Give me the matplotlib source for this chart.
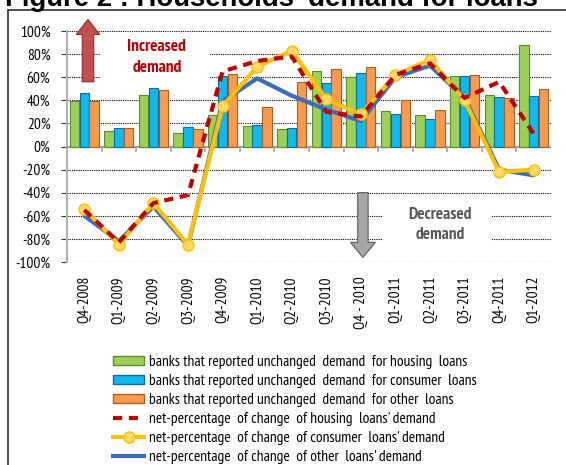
import matplotlib
matplotlib.use("Agg")
import matplotlib.pyplot as plt
import numpy as np
from matplotlib.patches import Rectangle, FancyArrow
from matplotlib.lines import Line2D
from matplotlib.ticker import FuncFormatter

categories = ["Q4-2008", "Q1-2009", "Q2-2009", "Q3-2009", "Q4-2009", "Q1-2010", "Q2-2010",
              "Q3-2010", "Q4 - 2010", "Q1-2011", "Q2-2011", "Q3-2011", "Q4-2011", "Q1-2012"]
unchanged_housing = [39, 13, 45, 12, 27, 18, 15, 65, 60, 31, 27, 61, 45, 88]
unchanged_consumer = [46, 16, 51, 17, 61, 19, 16, 55, 64, 28, 24, 61, 43, 44]
unchanged_other = [39, 16, 49, 15, 63, 34, 56, 67, 69, 40, 32, 62, 42, 50]
net_housing = [-55, -83, -49, -42, 65, 74, 78, 30, 26, 62, 72, 42, 56, 11]
net_consumer = [-54, -85, -49, -85, 35, 69, 83, 41, 28, 62, 75, 40, -22, -20]
net_other = [-60, -82, -52, -86, 39, 59, 44, 32, 22, 60, 70, 42, -20, -25]

legend_labels = ["banks that reported unchanged  demand  for housing  loans",
                 "banks that reported unchanged  demand  for consumer  loans",
                 "banks that reported unchanged  demand  for other  loans",
                 "net-percentage  of change  of housing  loans' demand",
                 "net-percentage  of change  of consumer  loans' demand",
                 "net-percentage  of change  of other  loans' demand"]

FAM = "PT Sans Narrow"

W, H = 566, 465
fig = plt.figure(figsize=(W / 100, H / 100), dpi=100)

# outer frame
fig.patches.append(Rectangle((8 / W, -0.1), 1.2, 1 - 10 / H + 0.1, transform=fig.transFigure,
                             fill=False, edgecolor="#303030", linewidth=1.2))
fig.text(5 / W, 1 - 6 / H, "Figure 2 : Households' demand for loans", fontsize=19.8,
         fontweight="bold", family="Liberation Sans", va="baseline", ha="left")

ax = fig.add_axes([67 / W, 1 - 262 / H, (551 - 67) / W, (262 - 31) / H])
x = np.arange(len(categories))
bw = 0.285
ax.bar(x - bw, unchanged_housing, bw * 0.95, color="#9bd157", edgecolor="#5f8a2a", linewidth=0.8, zorder=3)
ax.bar(x, unchanged_consumer, bw * 0.95, color="#10b8f0", edgecolor="#0b6f95", linewidth=0.8, zorder=3)
ax.bar(x + bw, unchanged_other, bw * 0.95, color="#fb9a4c", edgecolor="#a85e22", linewidth=0.8, zorder=3)

ax.plot(x, net_other, color="#3b6db8", linewidth=3.0, zorder=4, solid_capstyle="round")
ax.plot(x, net_consumer, color="#ffc000", linewidth=3.0, marker="o", markersize=8,
        markerfacecolor="#ffd966", markeredgecolor="#ffc000", markeredgewidth=1, zorder=5)
ax.plot(x, net_housing, color="#c00000", linewidth=3.0, linestyle=(0, (2.2, 1.6)), zorder=6)

ax.set_xlim(-0.5, len(categories) - 0.5)
ax.set_ylim(-100, 100)
ax.set_yticks(np.arange(-100, 101, 20))
ax.yaxis.set_major_formatter(FuncFormatter(lambda v, p: f"{int(v)}%"))
ax.yaxis.grid(True, color="#000000", linestyle=(0, (1, 1)), linewidth=0.8, zorder=0)
ax.set_axisbelow(True)
for s in ["top", "right", "bottom"]:
    ax.spines[s].set_visible(False)
ax.spines["left"].set_color("#b0b0b0")
ax.spines["left"].set_linewidth(1.5)
ax.axhline(0, color="#a0a0a0", linewidth=1.5, zorder=2)
for b in np.arange(0.5, len(categories) - 0.5, 1.0):
    ax.plot([b, b], [0, -4], color="#a0a0a0", linewidth=1.2, zorder=2, clip_on=False)
ax.set_xticks(x)
ax.set_xticklabels([])
ax.tick_params(axis="x", length=0)
ax.tick_params(axis="y", length=4, color="#303030", width=0.8, pad=8)
for lab in ax.get_yticklabels():
    lab.set_fontsize(11)
    lab.set_family(FAM)

# x category labels (rotated) below the plot area
ylab = -(276 - 262) / (262 - 31)
for xi, c in zip(x, categories):
    ax.text(xi, ylab, c, transform=ax.get_xaxis_transform(), rotation=90, fontsize=11,
            ha="center", va="top", family=FAM)

# Annotation boxes and arrows
ax.add_patch(Rectangle((0.45, 58), 3.2, 41, facecolor="white", edgecolor="none", zorder=1))
ax.text(2.1, 77, "Increased\ndemand", color="#c00000", fontsize=12.5, fontweight="bold",
        ha="center", va="center", linespacing=1.35, zorder=2, family=FAM)
up = FancyArrow(0.107, 56, 0, 54, width=0.33, head_width=0.68, head_length=13,
                length_includes_head=True, facecolor="#c0504d", edgecolor="#8c2d2a",
                linewidth=0.8, zorder=2)
ax.add_patch(up)
up.set_clip_on(False)

ax.add_patch(Rectangle((8.6, -90), 3.2, 40, facecolor="white", edgecolor="none", zorder=1))
ax.text(10.3, -68, "Decreased\ndemand", color="#595959", fontsize=12.5, fontweight="bold",
        ha="center", va="center", linespacing=1.35, zorder=2, family=FAM)
ax.add_patch(FancyArrow(8.06, -40, 0, -56, width=0.3, head_width=0.72, head_length=13,
                        length_includes_head=True, facecolor="#a6a6a6", edgecolor="#595959",
                        linewidth=0.8, zorder=2))

# Legend
handles = [
    Rectangle((0, 0), 1, 1, facecolor="#9bd157", edgecolor="#5f8a2a"),
    Rectangle((0, 0), 1, 1, facecolor="#10b8f0", edgecolor="#0b6f95"),
    Rectangle((0, 0), 1, 1, facecolor="#fb9a4c", edgecolor="#a85e22"),
    Line2D([], [], color="#c00000", linewidth=3, linestyle=(0, (2.2, 1.6))),
    Line2D([], [], color="#ffc000", linewidth=3, marker="o", markersize=8,
           markerfacecolor="#ffd966", markeredgecolor="#ffc000"),
    Line2D([], [], color="#3b6db8", linewidth=3),
]
leg = fig.legend(handles, legend_labels, loc="upper left", bbox_to_anchor=(113 / W, 1 - 355 / H),
                 frameon=False, prop=dict(size=11.2, family=FAM),
                 handlelength=2.0, handleheight=0.5, handletextpad=0.3, labelspacing=0.32,
                 borderaxespad=0, borderpad=0)

fig.savefig("out.png", dpi=100)
